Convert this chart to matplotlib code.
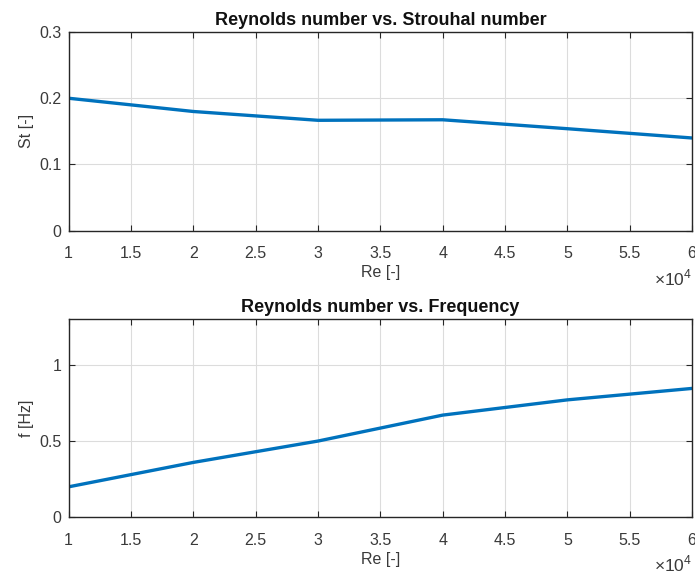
import matplotlib
matplotlib.use("Agg")
import matplotlib.pyplot as plt
from matplotlib.ticker import FuncFormatter

# Measured data
reynolds = [1e4, 2e4, 3e4, 4e4, 5e4, 6e4]
strouhal = [0.200, 0.180, 0.1667, 0.1675, 0.154, 0.140]
frequency = [0.200, 0.360, 0.500, 0.670, 0.770, 0.845]

x_ticks = [1e4, 1.5e4, 2e4, 2.5e4, 3e4, 3.5e4, 4e4, 4.5e4, 5e4, 5.5e4, 6e4]
st_ticks = [0, 0.1, 0.2, 0.3]
f_ticks = [0, 0.5, 1]

plt.rcParams['font.family'] = ['Liberation Sans', 'DejaVu Sans']
plt.rcParams['mathtext.fontset'] = 'custom'
plt.rcParams['mathtext.rm'] = 'Liberation Sans'

line_color = '#0072BD'
axis_color = '#262626'
text_color = '#3a3a3a'
fs = 11.5

fig = plt.figure(figsize=(6.95, 5.75), dpi=100)
ax1 = fig.add_axes([0.0988, 0.5988, 0.8969, 0.3455])
ax2 = fig.add_axes([0.0988, 0.1003, 0.8969, 0.3449])


def fmt_tick(v, _pos):
    return f"{v / 1e4:g}"


def style(ax, yticks, ylim, ylabel, title):
    ax.set_xlim(1e4, 6e4)
    ax.set_ylim(*ylim)
    ax.set_xticks(x_ticks)
    ax.set_yticks(yticks)
    ax.xaxis.set_major_formatter(FuncFormatter(fmt_tick))
    ax.yaxis.set_major_formatter(FuncFormatter(lambda v, p: f"{v:g}"))
    ax.grid(True, color='#dcdcdc', linewidth=0.8)
    ax.set_axisbelow(True)
    for sp in ax.spines.values():
        sp.set_color(axis_color)
        sp.set_linewidth(1.0)
    ax.tick_params(direction='in', length=4, width=0.8, colors=axis_color,
                   labelcolor=text_color, labelsize=fs, top=True, right=True)
    ax.tick_params(axis='x', pad=11)
    ax.tick_params(axis='y', pad=5)
    ax.set_xlabel('Re [-]', fontsize=fs, color=text_color, labelpad=3)
    ax.set_ylabel(ylabel, fontsize=fs, color=text_color)
    ax.yaxis.set_label_coords(-0.056, 0.5)
    ax.set_title(title, fontsize=13, fontweight='bold', color='#111111', pad=5)
    ax.text(1.0, -0.238, r'$\times10^{4}$', transform=ax.transAxes,
            ha='right', va='center', fontsize=12.5, color=text_color)


ax1.plot(reynolds, strouhal, color=line_color, linewidth=2.4)
style(ax1, st_ticks, (0, 0.3), 'St [-]', 'Reynolds number vs. Strouhal number')

ax2.plot(reynolds, frequency, color=line_color, linewidth=2.4)
style(ax2, f_ticks, (0, 1.3), 'f [Hz]', 'Reynolds number vs. Frequency')

fig.savefig('out.png', dpi=100, facecolor='white')
